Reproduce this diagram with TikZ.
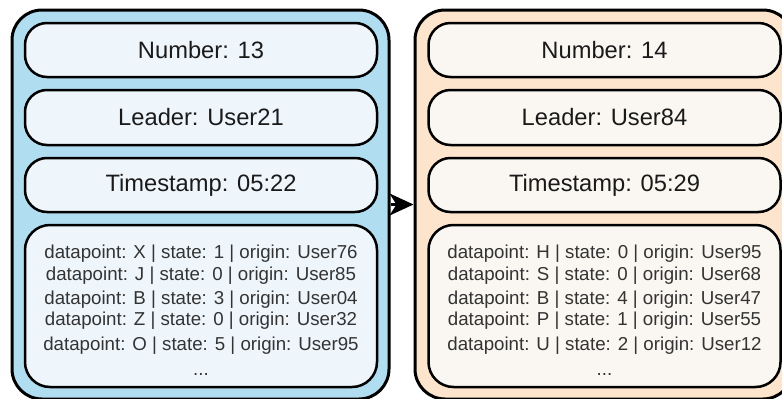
\documentclass[tikz,border=0pt]{standalone}
\usepackage{fontspec}
\setmainfont{Liberation Sans}
\usetikzlibrary{arrows.meta}

\definecolor{blueouter}{HTML}{B1DDF0}
\definecolor{blueinner}{HTML}{EEF6FC}
\definecolor{peachouter}{HTML}{FDE4CD}
\definecolor{creaminner}{HTML}{FAF7F2}
\definecolor{headtext}{HTML}{1A1A1A}
\definecolor{datatext}{HTML}{333333}

\begin{document}
\begin{tikzpicture}[x=1pt, y=-1pt,
    block/.style={draw, line width=3pt, rounded corners=30pt, inner sep=0pt,
                  minimum height=389pt},
    field/.style={draw, line width=2.5pt, rounded corners=22pt, inner sep=0pt,
                  minimum width=352pt, text=headtext,
                  font=\fontsize{23.7}{28}\selectfont},
    datalist/.style={field, rounded corners=25pt, minimum height=162pt,
                  align=center, text=datatext,
                  font=\fontsize{18.7}{23}\selectfont}]
    \clip (0,0) rectangle (782,399);
                    % Nodes
                    \node[block, fill=blueouter, minimum width=377pt] (blockA) at (200.5,204.5) {};
                    \node[block, fill=peachouter, minimum width=378pt] (blockB) at (604,204.5) {};
                    \node[field, fill=blueinner, minimum height=54pt] (numA) at (201,50) {Number: 13};
                    \node[field, fill=blueinner, minimum height=55pt] (leaderA) at (201,117.5) {Leader: User21};
                    \node[field, fill=blueinner, minimum height=54pt] (timeA) at (201,185) {Timestamp: 05:22};
                    \node[datalist, fill=blueinner] (dataA) at (201,306) {%
                        \rule{0pt}{22pt}datapoint: X | state: 1 | origin: User76\\[-1pt]
                        datapoint: J | state: 0 | origin: User85\\[1pt]
                        datapoint: B | state: 3 | origin: User04\\[-2pt]
                        datapoint: Z | state: 0 | origin: User32\\[2pt]
                        datapoint: O | state: 5 | origin: User95\\[2pt]
                        ...};
                    \node[field, fill=creaminner, minimum height=54pt] (numB) at (604.5,50) {Number: 14};
                    \node[field, fill=creaminner, minimum height=55pt] (leaderB) at (604.5,117.5) {Leader: User84};
                    \node[field, fill=creaminner, minimum height=54pt] (timeB) at (604.5,185) {Timestamp: 05:29};
                    \node[datalist, fill=creaminner] (dataB) at (604.5,306) {%
                        \rule{0pt}{22pt}datapoint: H | state: 0 | origin: User95\\[-1pt]
                        datapoint: S | state: 0 | origin: User68\\[1pt]
                        datapoint: B | state: 4 | origin: User47\\[-2pt]
                        datapoint: P | state: 1 | origin: User55\\[2pt]
                        datapoint: U | state: 2 | origin: User12\\[2pt]
                        ...};
                    % Edges
                    \draw[-{Stealth[length=24pt, width=22pt, inset=7pt]}, line width=2.5pt] (blockA.east) -- (blockB.west);
                \end{tikzpicture}
\end{document}
